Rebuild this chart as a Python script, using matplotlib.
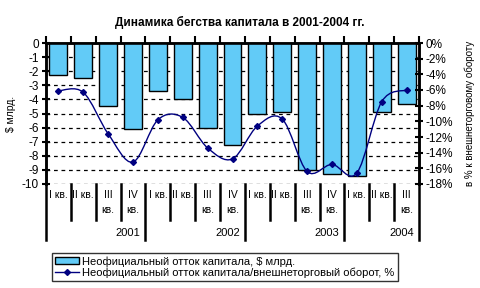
import numpy as np
import matplotlib
matplotlib.use("Agg")
import matplotlib.pyplot as plt
from matplotlib.path import Path
from matplotlib.patches import PathPatch
from matplotlib.lines import Line2D
from matplotlib.patches import Patch
import matplotlib.transforms as mtransforms

plt.rcParams['font.family'] = ['Liberation Sans', 'DejaVu Sans']
plt.rcParams['axes.unicode_minus'] = False

# data
quarters = ['I кв.', 'II кв.', 'III\nкв.', 'IV\nкв.',
            'I кв.', 'II кв.', 'III\nкв.', 'IV\nкв.',
            'I кв.', 'II кв.', 'III\nкв.', 'IV\nкв.',
            'I кв.', 'II кв.', 'III\nкв.']
years = ['2001', '2002', '2003', '2004']
year_len = [4, 4, 4, 3]
outflow = [-2.3, -2.5, -4.5, -6.1, -3.4, -4.0, -6.0, -7.2,
           -5.0, -4.9, -9.0, -9.3, -9.4, -4.9, -4.3]
outflow_pct = [-6.1, -6.3, -11.6, -15.2, -9.8, -9.5, -13.4, -14.8,
               -10.6, -9.7, -16.4, -15.5, -16.6, -7.5, -6.0]

left_ticks = list(range(0, -11, -1))
right_ticks = list(range(0, -19, -2))

fig = plt.figure(figsize=(4.8, 2.88), dpi=100)
ax = fig.add_axes([46/480, 1-184/288, 373/480, 141/288])
ax2 = ax.twinx()

n = len(outflow)
x = np.arange(n)
ax.bar(x, outflow, width=0.72, color='#62cbf7', edgecolor='black', linewidth=1, zorder=3)
ax.set_xlim(-0.5, n - 0.5)
ax.set_ylim(-10, 0)
ax2.set_ylim(-18, 0)

# dashed gridlines
for v in left_ticks[1:]:
    ax.axhline(v, color='black', linestyle=(0, (3, 3)), linewidth=0.9, zorder=1)

# smoothed line (bezier through the points, like excel)
pts = np.column_stack([x, outflow_pct]).astype(float)
ext = np.vstack([pts[0], pts, pts[-1]])
verts = [tuple(pts[0])]
codes = [Path.MOVETO]
for i in range(n - 1):
    p0, p1, p2, p3 = ext[i], ext[i+1], ext[i+2], ext[i+3]
    c1 = p1 + (p2 - p0) / 6
    c2 = p2 - (p3 - p1) / 6
    verts += [tuple(c1), tuple(c2), tuple(p2)]
    codes += [Path.CURVE4] * 3
ax2.add_patch(PathPatch(Path(verts, codes), fill=False, edgecolor='#000080', linewidth=1, zorder=4))
ax2.plot(x, outflow_pct, linestyle='none', marker='D', markersize=3, color='#000080', zorder=5)

# spines
for a in (ax, ax2):
    a.spines['bottom'].set_visible(False)
    a.spines['top'].set_linewidth(1.8)
    a.spines['left'].set_linewidth(1.8)
    a.spines['right'].set_linewidth(1.8)

ax.set_yticks(left_ticks)
ax.set_yticklabels([str(v) for v in left_ticks], fontsize=8.5)
ax.tick_params(axis='y', direction='inout', length=6, width=1.5, pad=2)
ax2.set_yticks(right_ticks)
ax2.set_yticklabels([f'{v}%' for v in right_ticks], fontsize=8.5)
ax2.tick_params(axis='y', direction='inout', length=6, width=1.5, pad=2)

# tick marks on top x axis at category boundaries
ax.set_xticks(np.arange(n + 1) - 0.5)
ax.set_xticklabels([])
ax.tick_params(axis='x', bottom=False, top=True, direction='out', length=5, width=1.5)

ax.set_ylabel('$ млрд.', fontsize=7.5, labelpad=4)
ax2.set_ylabel('в % к внешнеторговому обороту', fontsize=7, labelpad=8)

# multi-level category labels
trans = mtransforms.blended_transform_factory(ax.transData, ax.transAxes)
for i, q in enumerate(quarters):
    ax.text(i, -0.04, q, transform=trans, ha='center', va='top', fontsize=7.5,
            linespacing=1.7)
bounds = np.cumsum([0] + year_len)
for k in range(n + 1):
    low = -0.4 if k in bounds else -0.255
    ax.plot([k - 0.5, k - 0.5], [0, low], transform=trans, color='black',
            linewidth=1.8, clip_on=False)
for yr, b in zip(years, bounds[1:]):
    ax.text(b - 0.5 - 0.2, -0.345, yr, transform=trans, ha='right', va='center', fontsize=8)

fig.text(0.5, 1 - 22/288, 'Динамика бегства капитала в 2001-2004 гг.', ha='center', va='center',
         fontsize=8.5, fontweight='bold')

handles = [Patch(facecolor='#62cbf7', edgecolor='black', linewidth=1),
           Line2D([], [], color='#000080', marker='D', markersize=3, linewidth=1)]
labels = ['Неофициальный отток капитала, $ млрд.',
          'Неофициальный отток капитала/внешнеторговый оборот, %']
leg = fig.legend(handles, labels, loc='upper left', bbox_to_anchor=(52/480, 1 - 253/288),
                 fontsize=8, frameon=True, fancybox=False, edgecolor='black',
                 handlelength=2.1, handleheight=0.6, labelspacing=0.05, borderpad=0.3,
                 handletextpad=0.3, borderaxespad=0)
leg.get_frame().set_linewidth(1)
leg.get_frame().set_boxstyle('square', pad=0)

fig.savefig('out.png', dpi=100)
